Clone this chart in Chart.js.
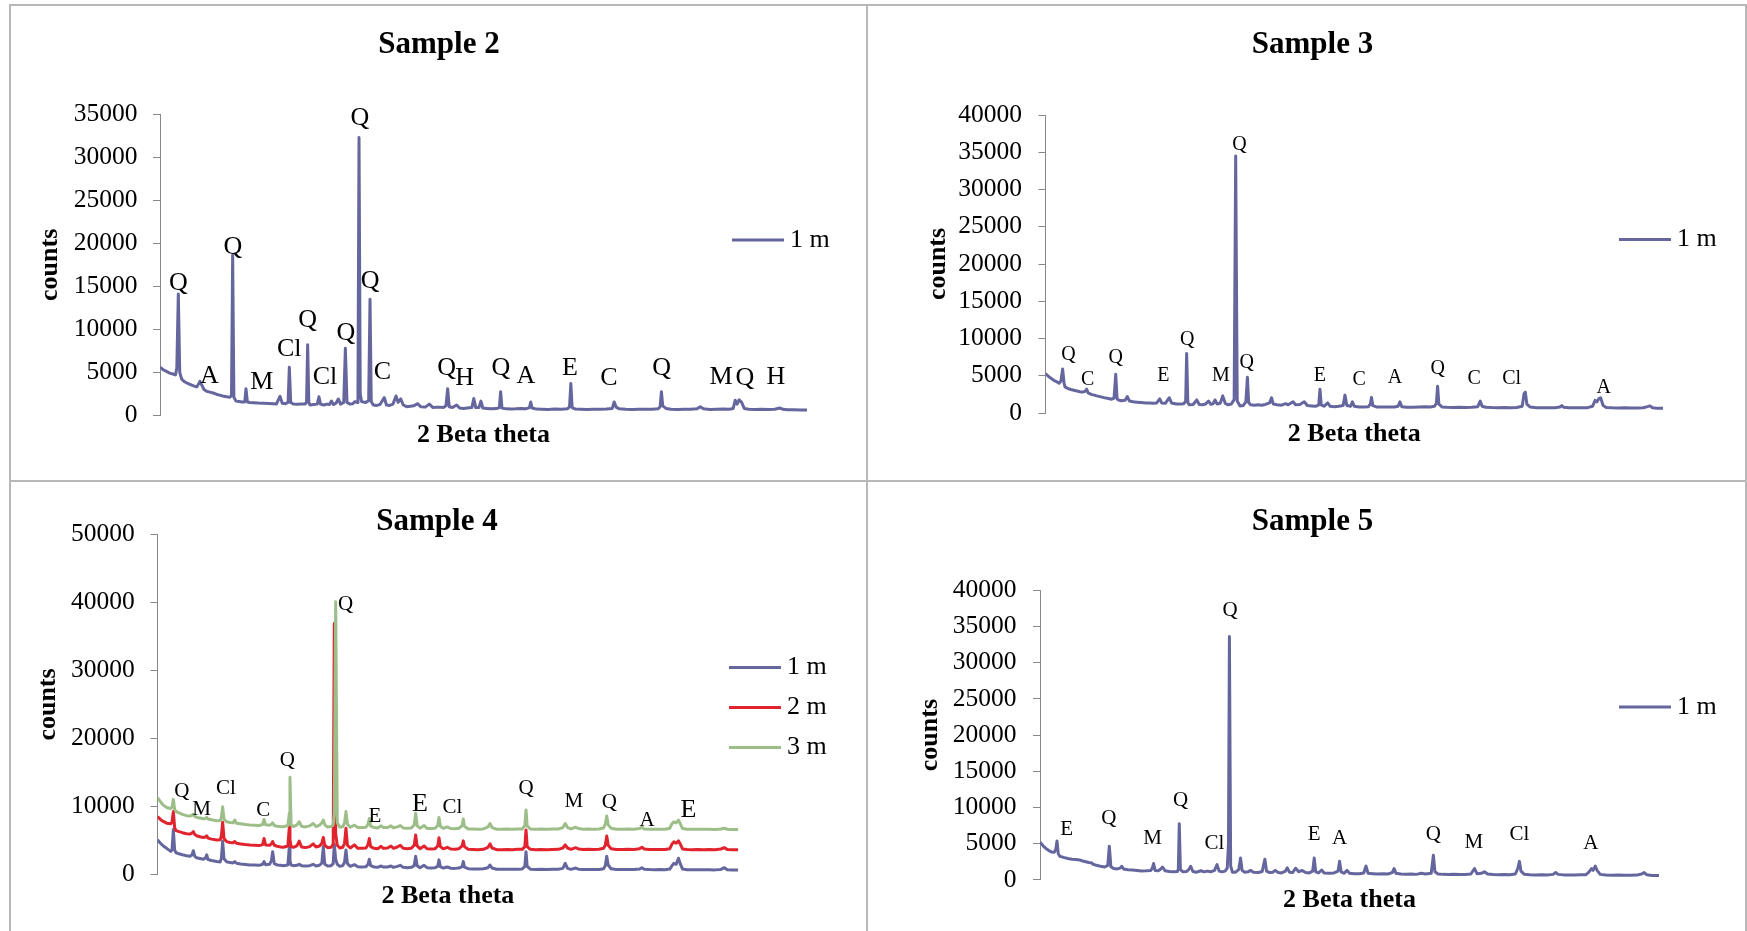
<!DOCTYPE html>
<html>
<head>
<meta charset="utf-8">
<title>XRD patterns</title>
<script src="https://cdn.jsdelivr.net/npm/chart.js@4.4.1/dist/chart.umd.min.js"></script>
<style>
  body { margin: 0; background: #fff; }
  .rule { position: absolute; background: #b8b8b8; }
  canvas { position: absolute; }
</style>
</head>
<body>
<div class="rule" style="left:9px;top:4px;width:1738px;height:2px"></div>
<div class="rule" style="left:9px;top:480px;width:1738px;height:2px"></div>
<div class="rule" style="left:9px;top:4px;width:2px;height:927px"></div>
<div class="rule" style="left:866px;top:4px;width:2px;height:927px"></div>
<div class="rule" style="left:1745px;top:4px;width:2px;height:927px"></div>

<canvas id="sample2" width="857" height="476" style="left:10px;top:5px"></canvas>
<canvas id="sample3" width="879" height="476" style="left:867px;top:5px"></canvas>
<canvas id="sample4" width="857" height="450" style="left:10px;top:481px"></canvas>
<canvas id="sample5" width="879" height="450" style="left:867px;top:481px"></canvas>

<script>
// ---- Sample 2 (1 m) ----
const s2Theta = [
  0, 0.5, 1.0, 1.5, 2.0, 2.4, 2.6, 2.83, 3.05, 3.35,
  3.8, 4.3, 4.8, 5.3, 5.67, 6.0, 6.18, 6.4, 6.8, 7.21,
  7.7, 8.2, 8.7, 9.2, 9.7, 10.3, 10.8, 11.05, 11.23, 11.42,
  11.75, 12.2, 12.7, 13.1, 13.29, 13.5, 13.9, 14.5, 15.2, 16.0,
  16.8, 17.5, 18.0, 18.55, 18.9, 19.4, 19.8, 19.99, 20.2, 20.6,
  21.2, 21.8, 22.4, 22.65, 22.82, 23.0, 23.2, 23.8, 24.3, 24.57,
  24.8, 25.3, 25.8, 26.2, 26.5, 26.8, 27.2, 27.56, 27.9, 28.4,
  28.65, 28.9, 29.37, 29.8, 30.14, 30.45, 30.6, 30.76, 30.95, 31.15,
  31.43, 31.8, 32.25, 32.46, 32.65, 32.97, 33.5, 34.0, 34.67, 35.0,
  35.5, 36.0, 36.48, 36.8, 37.2, 37.6, 38.13, 38.7, 39.2, 39.83,
  40.3, 41.0, 41.62, 42.2, 42.8, 43.28, 43.8, 44.2, 44.46, 44.7,
  45.2, 45.85, 46.3, 46.88, 47.5, 48.2, 48.5, 48.8, 49.3, 49.6,
  49.9, 50.5, 51.2, 52.0, 52.45, 52.65, 52.85, 53.5, 54.3, 55.0,
  55.8, 56.5, 57.1, 57.3, 57.5, 58.2, 59.0, 60.0, 61.0, 62.0,
  63.0, 63.3, 63.5, 63.7, 64.2, 65.0, 66.0, 67.0, 68.0, 69.0,
  69.9, 70.2, 70.5, 71.0, 72.0, 73.0, 74.0, 75.0, 76.0, 77.0,
  77.3, 77.5, 77.7, 78.2, 79.0, 80.0, 81.0, 82.0, 83.0, 83.5,
  84.0, 85.0, 86.0, 87.0, 88.0, 88.6, 88.9, 89.2, 89.5, 89.9,
  90.3, 91.0, 92.0, 93.0, 94.0, 95.0, 95.8, 96.3, 97.0, 98.0,
  99.0, 100
];
const s2Counts = [
  5600, 5300, 5100, 4900, 4800, 4700, 5500, 14100, 5000, 4200,
  3900, 3700, 3550, 3400, 3300, 3700, 3950, 3600, 3000, 2800,
  2700, 2600, 2450, 2350, 2250, 2150, 2100, 2300, 18600, 2100,
  1650, 1600, 1550, 1550, 3100, 1550, 1480, 1450, 1420, 1400,
  1380, 1350, 1320, 2200, 1400, 1350, 1500, 5600, 1500, 1300,
  1280, 1300, 1300, 1500, 8200, 1500, 1200, 1250, 1300, 2150,
  1300, 1200, 1300, 1250, 1650, 1250, 1400, 1900, 1300, 1500,
  7800, 1500, 1300, 1350, 1600, 1500, 3000, 32300, 2500, 1600,
  1550, 1500, 1700, 13500, 1600, 1200, 1150, 1250, 2050, 1200,
  1150, 1300, 2250, 1500, 1900, 1200, 1000, 1050, 1100, 1350,
  1000, 950, 1300, 900, 950, 950, 900, 1100, 3100, 1000,
  900, 1200, 850, 800, 850, 900, 1950, 900, 900, 1650,
  850, 800, 750, 780, 900, 2750, 850, 750, 720, 750,
  800, 750, 900, 1550, 850, 720, 700, 680, 720, 700,
  750, 1000, 3700, 900, 720, 700, 680, 710, 700, 720,
  800, 1550, 950, 750, 700, 680, 700, 690, 700, 750,
  1000, 2750, 1100, 800, 700, 680, 700, 690, 750, 1000,
  750, 680, 700, 720, 700, 800, 1750, 1300, 1800, 1500,
  800, 700, 680, 700, 680, 700, 850, 700, 650, 640,
  630, 620
];
// phase letters: [2θ position, counts, letter]
const s2Peaks = [
  [2.83, 15350, 'Q'], [7.62, 4570, 'A'], [11.28, 19600, 'Q'], [15.72, 3900, 'M'],
  [19.98, 7670, 'Cl'], [22.83, 11080, 'Q'], [25.5, 4490, 'Cl'], [28.75, 9600, 'Q'],
  [30.9, 34530, 'Q'], [32.46, 15540, 'Q'], [34.36, 5070, 'C'], [44.3, 5470, 'Q'],
  [47.1, 4340, 'H'], [52.7, 5470, 'Q'], [56.57, 4600, 'A'], [63.37, 5470, 'E'],
  [69.4, 4370, 'C'], [77.54, 5470, 'Q'], [86.7, 4450, 'M'], [90.4, 4370, 'Q'],
  [95.2, 4490, 'H']
];

// ---- Sample 3 (1 m) ----
const s3Theta = [
  0, 0.5, 1.0, 1.5, 1.8, 2.2, 2.5, 2.78, 3.0, 3.16,
  3.6, 4.1, 4.6, 5.1, 5.59, 6.0, 6.4, 6.67, 6.9, 7.4,
  7.9, 8.3, 8.83, 9.3, 9.8, 10.2, 10.7, 11.1, 11.37, 11.6,
  11.8, 12.3, 12.9, 13.25, 13.6, 14.2, 14.8, 15.5, 16.2, 16.8,
  17.46, 18.0, 18.5, 18.8, 19.4, 20.05, 20.4, 21.2, 21.8, 22.4,
  22.7, 22.86, 23.05, 23.3, 23.9, 24.5, 24.9, 25.45, 25.9, 26.4,
  26.8, 27.15, 27.45, 27.8, 28.3, 28.7, 29.1, 29.6, 30.1, 30.55,
  30.8, 31.05, 31.5, 32.0, 32.45, 32.7, 32.9, 33.2, 33.8, 34.4,
  35.0, 35.6, 36.3, 36.6, 36.9, 37.5, 38.2, 38.9, 39.3, 40.1,
  40.5, 41.2, 41.9, 42.4, 43.1, 43.8, 44.25, 44.45, 44.65, 45.1,
  45.7, 46.1, 46.8, 47.5, 48.2, 48.5, 48.8, 49.4, 49.7, 50.0,
  50.8, 51.6, 52.3, 52.6, 52.8, 53.0, 53.6, 54.5, 55.5, 56.5,
  57.1, 57.4, 57.7, 58.5, 59.5, 60.5, 61.5, 62.3, 63.0, 63.3,
  63.5, 63.7, 64.2, 65.0, 66.0, 67.0, 68.0, 69.0, 70.0, 70.4,
  70.7, 71.3, 72.3, 73.3, 74.3, 75.3, 76.3, 77.2, 77.5, 77.7,
  77.95, 78.5, 79.5, 80.5, 81.5, 82.5, 83.3, 83.6, 83.9, 84.8,
  85.8, 86.8, 87.8, 88.6, 89.0, 89.3, 89.6, 89.9, 90.3, 90.8,
  91.8, 92.8, 93.8, 94.8, 95.8, 96.8, 97.5, 97.9, 98.3, 99.0,
  100
];
const s3Counts = [
  5300, 4900, 4600, 4300, 4200, 4000, 4300, 5900, 4000, 3500,
  3300, 3150, 3050, 2950, 2850, 2800, 2900, 3200, 2700, 2500,
  2400, 2300, 2200, 2100, 2000, 1950, 1850, 2000, 5200, 1900,
  1750, 1650, 1700, 2200, 1600, 1500, 1450, 1400, 1350, 1350,
  1300, 1350, 1900, 1350, 1300, 2050, 1350, 1200, 1200, 1250,
  1600, 8000, 1400, 1100, 1150, 1750, 1150, 1100, 1200, 1600,
  1150, 1250, 1750, 1200, 1300, 2300, 1300, 1100, 1200, 1800,
  34500, 1600, 950, 1000, 1500, 4800, 1400, 1100, 1050, 1100,
  1050, 1150, 1350, 2050, 1200, 1100, 1050, 1250, 1100, 1500,
  1100, 1150, 1500, 1000, 950, 900, 1100, 3200, 1100, 900,
  1350, 900, 850, 900, 1000, 2400, 1000, 900, 1500, 900,
  820, 800, 850, 1200, 2100, 1000, 820, 800, 820, 800,
  900, 1500, 850, 780, 760, 800, 850, 800, 900, 1300,
  3600, 1200, 820, 760, 740, 760, 740, 760, 850, 1600,
  900, 780, 740, 720, 740, 720, 740, 900, 2600, 2800,
  1200, 800, 720, 700, 720, 700, 800, 1000, 780, 700,
  720, 700, 720, 900, 1700, 1500, 1900, 2050, 1000, 750,
  700, 680, 700, 680, 660, 700, 850, 950, 700, 650,
  640
];
const s3Peaks = [
  [3.7, 7780, 'Q'], [6.83, 4520, 'C'], [11.37, 7470, 'Q'], [19.08, 4970, 'E'],
  [22.96, 9800, 'Q'], [28.42, 4970, 'M'], [31.4, 35970, 'Q'], [32.58, 6750, 'Q'],
  [44.45, 4970, 'E'], [50.8, 4520, 'C'], [56.6, 4740, 'A'], [63.5, 6000, 'Q'],
  [69.4, 4650, 'C'], [75.5, 4650, 'Cl'], [90.4, 3400, 'A']
];

// ---- Sample 4 (1 m, 2 m, 3 m on a shared 2θ grid) ----
const s4Theta = [
  0, 0.5, 1.0, 1.58, 2.27, 2.5, 2.73, 2.95, 3.19, 3.7,
  4.3, 5.0, 5.6, 5.95, 6.17, 6.4, 6.74, 7.3, 7.9, 8.25,
  8.47, 8.7, 9.3, 10.2, 10.8, 11.0, 11.22, 11.45, 11.9, 12.5,
  13.0, 13.3, 13.6, 14.3, 15.1, 15.9, 16.7, 17.5, 18.1, 18.34,
  18.6, 19.3, 19.6, 19.83, 20.1, 20.6, 21.2, 21.67, 22.45, 22.7,
  22.81, 23.0, 23.4, 24.0, 24.4, 24.8, 25.5, 26.2, 26.8, 27.3,
  27.9, 28.3, 28.55, 28.8, 29.3, 29.9, 30.25, 30.44, 30.68, 30.95,
  31.4, 31.9, 32.2, 32.45, 32.7, 33.2, 33.9, 34.5, 35.2, 35.9,
  36.25, 36.47, 36.7, 37.3, 37.9, 38.5, 38.9, 39.6, 40.2, 40.6,
  41.3, 41.8, 42.3, 43.0, 43.7, 44.2, 44.45, 44.7, 45.2, 45.9,
  46.4, 47.1, 47.8, 48.25, 48.47, 48.7, 49.2, 49.9, 50.5, 51.2,
  51.9, 52.45, 52.65, 52.85, 53.5, 54.3, 55.2, 56.1, 56.9, 57.25,
  57.6, 58.4, 59.3, 60.2, 61.1, 62.0, 62.8, 63.25, 63.45, 63.65,
  64.2, 65.1, 66.0, 67.0, 68.0, 69.0, 69.8, 70.2, 70.6, 71.2,
  72.0, 72.5, 73.3, 74.2, 75.1, 76.0, 76.8, 77.1, 77.35, 77.6,
  78.1, 79.0, 80.0, 81.0, 82.0, 83.0, 83.4, 83.8, 84.7, 85.6,
  86.5, 87.4, 88.2, 88.6, 88.9, 89.3, 89.7, 90.0, 90.4, 91.2,
  92.1, 93.0, 94.0, 95.0, 96.0, 97.0, 97.6, 98.1, 99.0, 100
];
const s4Counts1m = [
  5100, 4600, 4200, 3850, 3400, 3600, 6600, 3600, 3200, 3050,
  2900, 2750, 2700, 2900, 3500, 2700, 2450, 2350, 2250, 2400,
  2900, 2200, 2050, 1900, 1850, 2400, 4900, 2300, 1880, 1750,
  1700, 1900, 1650, 1550, 1480, 1400, 1380, 1350, 1500, 1900,
  1450, 1500, 2000, 3350, 1600, 1400, 1350, 1300, 1400, 4100,
  2000, 1400, 1300, 1350, 1500, 1300, 1250, 1300, 1500, 1250,
  1350, 1700, 4100, 1500, 1250, 1300, 1600, 4500, 2200, 1500,
  1200, 1300, 1800, 3600, 1600, 1200, 1450, 1150, 1100, 1150,
  1500, 2250, 1300, 1100, 1050, 1250, 1100, 1100, 1250, 1050,
  1200, 1350, 1050, 1000, 1050, 1300, 2700, 1300, 1000, 1350,
  1000, 950, 1000, 1200, 2150, 1150, 950, 1100, 920, 900,
  950, 1150, 1900, 1100, 850, 820, 800, 850, 1000, 1400,
  950, 780, 760, 780, 760, 780, 800, 1200, 3350, 1200,
  780, 750, 760, 740, 760, 780, 900, 1650, 900, 760,
  950, 780, 740, 750, 730, 750, 850, 1300, 2700, 1400,
  850, 730, 720, 740, 720, 800, 1000, 780, 720, 700,
  720, 700, 800, 1300, 1650, 1500, 2400, 1600, 800, 700,
  690, 700, 690, 700, 680, 750, 1000, 700, 660, 650
];
const s4Counts2m = [
  8500, 8100, 7800, 7550, 7450, 7700, 9250, 6900, 6450, 6300,
  6150, 6000, 5950, 6100, 6300, 5900, 5700, 5550, 5450, 5500,
  5700, 5350, 5200, 5070, 5100, 5700, 7700, 5300, 4830, 4700,
  4650, 4850, 4600, 4500, 4400, 4340, 4300, 4250, 4400, 5300,
  4350, 4300, 4500, 4850, 4300, 4150, 4050, 4000, 4200, 7050,
  5200, 4100, 4000, 4200, 4900, 4050, 3950, 4100, 4500, 4050,
  4200, 4600, 5450, 4300, 3950, 4000, 4500, 36900, 6000, 4300,
  3900, 4000, 4600, 6800, 4300, 3900, 4350, 3850, 3850, 3900,
  4400, 5300, 4100, 3850, 3800, 4150, 3850, 3900, 4200, 3850,
  4050, 4300, 3850, 3800, 3850, 4300, 5800, 4200, 3800, 4200,
  3780, 3750, 3800, 4200, 5400, 4100, 3780, 4000, 3750, 3720,
  3800, 4200, 4950, 4100, 3700, 3680, 3650, 3700, 4000, 4500,
  3900, 3650, 3650, 3680, 3650, 3700, 3700, 4100, 6550, 4100,
  3700, 3650, 3680, 3650, 3680, 3700, 3900, 4350, 3900, 3700,
  3950, 3750, 3680, 3700, 3680, 3700, 3850, 4300, 5650, 4300,
  3800, 3680, 3660, 3700, 3670, 3800, 4000, 3750, 3670, 3660,
  3680, 3670, 3800, 4500, 4800, 4600, 4950, 4500, 3750, 3660,
  3650, 3670, 3650, 3660, 3650, 3750, 3950, 3680, 3650, 3640
];
const s4Counts3m = [
  11300, 10700, 10200, 9850, 9700, 9900, 11050, 9600, 9250, 9050,
  8850, 8650, 8600, 8700, 8900, 8550, 8400, 8300, 8200, 8250,
  8400, 8150, 8050, 7900, 7950, 8400, 9950, 8100, 7760, 7650,
  7600, 8000, 7550, 7450, 7350, 7280, 7250, 7200, 7350, 8100,
  7300, 7250, 7400, 7600, 7200, 7100, 7050, 7030, 7200, 9000,
  14300, 7300, 7050, 7300, 7750, 7100, 7000, 7150, 7500, 7050,
  7250, 7600, 8000, 7300, 7000, 7050, 7300, 9000, 40100, 7600,
  6950, 7050, 7600, 9250, 7400, 6950, 7250, 6900, 6900, 6950,
  7400, 8250, 7100, 6900, 6850, 7150, 6900, 6900, 7150, 6850,
  7000, 7200, 6850, 6800, 6850, 7300, 9000, 7200, 6800, 7200,
  6780, 6750, 6800, 7200, 8400, 7100, 6780, 7000, 6750, 6720,
  6800, 7200, 8150, 7100, 6700, 6680, 6650, 6700, 7000, 7500,
  6900, 6650, 6650, 6700, 6650, 6700, 6700, 7200, 9500, 7100,
  6700, 6650, 6680, 6650, 6680, 6700, 6900, 7500, 6900, 6700,
  6950, 6750, 6650, 6680, 6650, 6680, 6850, 7400, 8600, 7300,
  6800, 6650, 6640, 6680, 6650, 6750, 6950, 6700, 6640, 6640,
  6660, 6650, 6800, 7500, 7750, 7600, 8000, 7500, 6750, 6650,
  6640, 6650, 6640, 6650, 6630, 6700, 6800, 6660, 6620, 6620
];
const s4Peaks = [
  [4.17, 12180, 'Q'], [7.6, 9490, 'M'], [11.8, 12680, 'Cl'], [18.2, 9380, 'C'],
  [22.35, 16840, 'Q'], [32.4, 39780, 'Q'], [37.45, 8600, 'E'], [50.76, 9880, 'Cl'],
  [63.45, 12680, 'Q'], [71.7, 10710, 'M'], [77.8, 10560, 'Q'], [84.3, 7910, 'A']
];
const s4PeaksLarge = [[45.2, 10370, 'E'], [91.4, 9490, 'E']];

// ---- Sample 5 (1 m) ----
const s5Theta = [
  0, 0.5, 1.0, 1.5, 1.84, 2.3, 2.55, 2.75, 2.95, 3.2,
  3.8, 4.5, 5.2, 5.8, 6.38, 6.9, 7.4, 7.9, 8.3, 8.6,
  9.1, 9.6, 10.0, 10.47, 10.95, 11.2, 11.45, 11.9, 12.5, 13.0,
  13.2, 13.5, 14.2, 14.9, 15.7, 16.4, 17.1, 17.9, 18.15, 18.35,
  18.6, 19.1, 19.5, 19.8, 20.2, 20.9, 21.6, 22.2, 22.35, 22.5,
  22.68, 23.1, 23.7, 24.1, 24.35, 24.7, 25.3, 26.0, 26.5, 27.0,
  27.6, 28.2, 28.6, 28.95, 29.4, 29.9, 30.25, 30.45, 30.6, 30.8,
  31.1, 31.6, 32.1, 32.4, 32.65, 33.1, 33.6, 34.0, 34.5, 35.3,
  35.9, 36.33, 36.6, 37.1, 37.6, 38.0, 38.5, 39.0, 39.6, 39.95,
  40.3, 40.8, 41.3, 41.8, 42.3, 42.9, 43.5, 44.05, 44.3, 44.55,
  45.0, 45.5, 45.9, 46.7, 47.5, 48.15, 48.4, 48.65, 49.1, 49.6,
  50.0, 50.8, 51.6, 52.3, 52.67, 53.0, 53.8, 54.6, 55.4, 56.2,
  56.9, 57.2, 57.5, 58.3, 59.1, 60.0, 60.8, 61.6, 62.3, 63.2,
  63.55, 63.8, 64.3, 65.1, 66.0, 66.9, 67.8, 68.7, 69.6, 70.2,
  70.6, 71.3, 71.8, 72.3, 73.2, 74.1, 75.0, 75.9, 76.8, 77.2,
  77.45, 77.7, 78.2, 79.1, 80.1, 81.1, 82.1, 82.9, 83.3, 83.7,
  84.6, 85.5, 86.4, 87.3, 88.2, 88.7, 89.1, 89.35, 89.7, 90.0,
  90.5, 91.4, 92.4, 93.4, 94.4, 95.4, 96.4, 97.2, 97.6, 98.0,
  98.9, 100
];
const s5Counts = [
  5200, 4700, 4300, 4000, 3850, 3800, 4200, 5350, 3600, 3250,
  3100, 2950, 2850, 2800, 2750, 2600, 2500, 2400, 2350, 2150,
  2000, 1900, 1850, 1770, 2000, 4650, 1800, 1550, 1500, 1650,
  1870, 1500, 1400, 1350, 1300, 1220, 1250, 1300, 1600, 2250,
  1300, 1250, 1500, 1770, 1250, 1150, 1100, 1150, 1500, 7750,
  1400, 1100, 1150, 1500, 1870, 1150, 1050, 1250, 1100, 1200,
  1100, 1300, 2100, 1200, 1100, 1200, 1600, 5000, 33600, 1900,
  1050, 1050, 1400, 3000, 1300, 1050, 1100, 1300, 1050, 1000,
  1150, 2850, 1200, 1000, 1050, 1300, 1000, 950, 1150, 1650,
  1050, 1000, 1600, 1100, 1300, 1000, 950, 1200, 3000, 1100,
  950, 1350, 950, 900, 950, 1200, 2550, 1100, 900, 1300,
  900, 850, 850, 950, 1900, 900, 850, 800, 850, 800,
  1000, 1550, 900, 800, 780, 800, 750, 900, 800, 900,
  3400, 1100, 800, 750, 720, 750, 720, 740, 800, 1550,
  850, 900, 1100, 800, 720, 700, 720, 700, 800, 1600,
  2550, 1200, 780, 700, 680, 700, 680, 750, 1000, 750,
  680, 660, 680, 700, 700, 1100, 1550, 1300, 1900, 1300,
  750, 650, 640, 660, 640, 630, 650, 800, 1000, 700,
  600, 580
];
const s5Peaks = [
  [4.3, 6940, 'E'], [11.1, 8460, 'Q'], [18.17, 5690, 'M'], [22.7, 10890, 'Q'],
  [28.16, 5000, 'Cl'], [30.7, 37240, 'Q'], [44.3, 6250, 'E'], [48.4, 5690, 'A'],
  [63.55, 6250, 'Q'], [70.1, 5140, 'M'], [77.45, 6250, 'Cl'], [88.97, 5000, 'A']
];

const serif = "'Liberation Serif', 'Times New Roman', serif";
Chart.defaults.font.family = serif;
Chart.defaults.color = '#000';

const blue = '#66669e';
const red = '#e0232c';
const green = '#9dbe89';

function series(theta, counts) {
  return theta.map((t, i) => ({ x: t, y: counts[i] }));
}

// title, legend and phase letters are painted straight onto the canvas
function overlay(opt) {
  return {
    id: 'overlay',
    afterDraw(chart) {
      const ctx = chart.ctx;
      const x = chart.scales.x, y = chart.scales.y;
      ctx.save();
      ctx.fillStyle = '#000';
      ctx.textAlign = 'center';
      ctx.textBaseline = 'middle';

      ctx.font = 'bold 31px ' + serif;
      ctx.fillText(opt.title, opt.titleX, opt.titleY);

      opt.marks.forEach(group => {
        ctx.font = group.size + 'px ' + serif;
        group.items.forEach(([t, c, s]) => {
          ctx.fillText(s, x.getPixelForValue(t), y.getPixelForValue(c));
        });
      });

      ctx.textAlign = 'left';
      ctx.font = '26px ' + serif;
      chart.data.datasets.forEach((ds, i) => {
        const ly = opt.legendY + i * 40;
        ctx.strokeStyle = ds.borderColor;
        ctx.lineWidth = 3;
        ctx.beginPath();
        ctx.moveTo(opt.legendX, ly);
        ctx.lineTo(opt.legendX + 52, ly);
        ctx.stroke();
        ctx.fillText(ds.label, opt.legendX + 58, ly);
      });
      ctx.restore();
    }
  };
}

function xrdChart(id, opt) {
  const canvas = document.getElementById(id);
  const area = opt.area;
  return new Chart(canvas, {
    type: 'line',
    data: {
      datasets: opt.lines.map((l, i) => ({
        label: l.label,
        data: l.data,
        borderColor: l.color,
        borderWidth: 3,
        borderJoinStyle: 'round',
        pointRadius: 0,
        tension: 0,
        order: opt.lines.length - i
      }))
    },
    options: {
      responsive: false,
      animation: false,
      layout: { padding: { left: 0, top: area.top, right: canvas.width - area.right, bottom: 0 } },
      plugins: {
        legend: { display: false },
        title: { display: false },
        tooltip: { enabled: false }
      },
      scales: {
        x: {
          type: 'linear',
          min: 0,
          max: 100,
          grid: { display: false },
          border: { display: false },
          ticks: { display: false },
          title: {
            display: true,
            text: '2 Beta theta',
            font: { size: 26, weight: 'bold' },
            padding: { top: 0, bottom: opt.xTitlePad }
          },
          afterFit: (s) => { s.height = canvas.height - area.bottom; }
        },
        y: {
          min: 0,
          max: opt.yMax,
          ticks: {
            stepSize: opt.yStep,
            padding: opt.tickPad,
            font: { size: 25.5 },
            callback: (v) => String(v)
          },
          grid: { drawOnChartArea: false, drawTicks: true, tickLength: 7, color: '#888' },
          border: { color: '#888', width: 1 },
          title: {
            display: true,
            text: 'counts',
            font: { size: 26, weight: 'bold' },
            padding: { top: opt.yTitlePad, bottom: 0 }
          },
          afterFit: (s) => { s.width = area.left; }
        }
      }
    },
    plugins: [overlay(opt)]
  });
}

xrdChart('sample2', {
  title: 'Sample 2', titleX: 429, titleY: 40,
  area: { left: 150, right: 797, top: 109.3, bottom: 410.3 },
  yMax: 35000, yStep: 5000, tickPad: 15.5, yTitlePad: 24.4, xTitlePad: 29.8,
  legendX: 722, legendY: 235,
  lines: [{ label: '1 m', color: blue, data: series(s2Theta, s2Counts) }],
  marks: [{ size: 26, items: s2Peaks }]
});

xrdChart('sample3', {
  title: 'Sample 3', titleX: 445.5, titleY: 40,
  area: { left: 178.5, right: 796, top: 110, bottom: 408 },
  yMax: 40000, yStep: 5000, tickPad: 16.5, yTitlePad: 55.4, xTitlePad: 30.9,
  legendX: 752, legendY: 234.5,
  lines: [{ label: '1 m', color: blue, data: series(s3Theta, s3Counts) }],
  marks: [{ size: 20, items: s3Peaks }]
});

xrdChart('sample4', {
  title: 'Sample 4', titleX: 427, titleY: 41,
  area: { left: 147.5, right: 728.3, top: 53.5, bottom: 393.5 },
  yMax: 50000, yStep: 10000, tickPad: 15.7, yTitlePad: 22.9, xTitlePad: 18.9,
  legendX: 719, legendY: 186.4,
  lines: [
    { label: '1 m', color: blue, data: series(s4Theta, s4Counts1m) },
    { label: '2 m', color: red, data: series(s4Theta, s4Counts2m) },
    { label: '3 m', color: green, data: series(s4Theta, s4Counts3m) }
  ],
  marks: [{ size: 21, items: s4Peaks }, { size: 26, items: s4PeaksLarge }]
});

xrdChart('sample5', {
  title: 'Sample 5', titleX: 445.5, titleY: 41,
  area: { left: 173, right: 792, top: 109.3, bottom: 398.8 },
  yMax: 40000, yStep: 5000, tickPad: 16.5, yTitlePad: 47.9, xTitlePad: 14.9,
  legendX: 752, legendY: 226,
  lines: [{ label: '1 m', color: blue, data: series(s5Theta, s5Counts) }],
  marks: [{ size: 21, items: s5Peaks }]
});
</script>
</body>
</html>
